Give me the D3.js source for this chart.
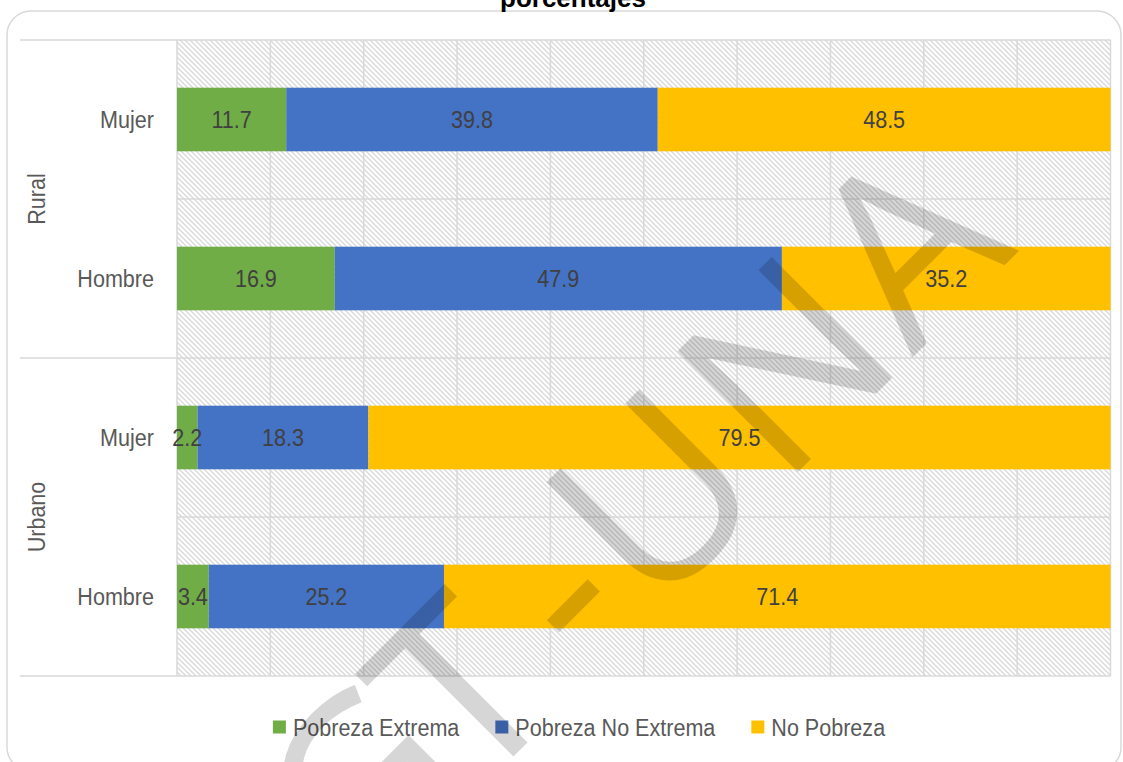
<!DOCTYPE html>
<html>
<head>
<meta charset="utf-8">
<script src="https://cdn.jsdelivr.net/npm/d3@7"></script>
<style>
  html, body { margin: 0; padding: 0; background: #fff; }
  svg { display: block; }
  .lbl { font-family: "Liberation Sans Narrow", "Arial Narrow", "Liberation Sans", sans-serif; }
</style>
</head>
<body>
<svg id="chart" width="1123" height="762"></svg>
<script>
// Poverty status by area and sex, in percent
const areas = ["Rural", "Urbano"];
const sexes = ["Mujer", "Hombre"];
const seriesNames = ["Pobreza Extrema", "Pobreza No Extrema", "No Pobreza"];
const seriesColors = ["#70AD47", "#4472C4", "#FFC000"];

// one value per row: Rural-Mujer, Rural-Hombre, Urbano-Mujer, Urbano-Hombre
const pobrezaExtrema   = [11.7, 16.9, 2.2, 3.4];
const pobrezaNoExtrema = [39.8, 47.9, 18.3, 25.2];
const noPobreza        = [48.5, 35.2, 79.5, 71.4];
const xTicks = [0, 10, 20, 30, 40, 50, 60, 70, 80, 90, 100];

const rows = [];
areas.forEach(a => sexes.forEach(s => rows.push({ area: a, sex: s, key: a + "|" + s })));
rows.forEach((r, i) => {
  r["Pobreza Extrema"] = pobrezaExtrema[i];
  r["Pobreza No Extrema"] = pobrezaNoExtrema[i];
  r["No Pobreza"] = noPobreza[i];
});

const svg = d3.select("#chart");
const plot = { left: 177, right: 1110.5, top: 40, bottom: 676 };
const FS = 24.5;      // label font size
const NARROW = 0.88;  // horizontal squeeze for the narrow label face

const x = d3.scaleLinear().domain([0, 100]).range([plot.left, plot.right]);
const y = d3.scaleBand().domain(rows.map(r => r.key))
  .range([plot.top, plot.bottom]).paddingInner(0.6).paddingOuter(0.3);
const step = y.step();
const color = d3.scaleOrdinal().domain(seriesNames).range(seriesColors);

// hatch pattern for the plot background
const defs = svg.append("defs");
const p = 5;
const pat = defs.append("pattern").attr("id", "hatch")
  .attr("patternUnits", "userSpaceOnUse").attr("width", p).attr("height", p);
pat.append("rect").attr("width", p).attr("height", p).attr("fill", "#fff");
pat.append("path")
  .attr("d", `M0,0L${p},${p}M${-p/2},${p/2}L${p/2},${p*1.5}M${p/2},${-p/2}L${p*1.5},${p/2}`)
  .attr("stroke", "#dadada").attr("stroke-width", 1.4);

// chart frame
svg.append("rect").attr("x", 7).attr("y", 11).attr("width", 1114).attr("height", 760)
  .attr("rx", 24).attr("fill", "#fff").attr("stroke", "#d9d9d9").attr("stroke-width", 1.5);

// title (second line)
svg.append("text").attr("x", 573).attr("y", 7).attr("text-anchor", "middle")
  .attr("font-family", "Liberation Sans, Arial, sans-serif").attr("font-weight", "bold")
  .attr("font-size", 26).attr("fill", "#000").text("porcentajes");

// plot background
svg.append("rect").attr("x", plot.left).attr("y", plot.top)
  .attr("width", plot.right - plot.left).attr("height", plot.bottom - plot.top)
  .attr("fill", "url(#hatch)");

// vertical gridlines
svg.append("g").selectAll("line").data(xTicks).join("line")
  .attr("x1", d => x(d)).attr("x2", d => x(d))
  .attr("y1", plot.top).attr("y2", plot.bottom)
  .attr("stroke", "#d9d9d9").attr("stroke-width", 1.5);

// row boundaries; group boundaries extend into the label area
const bounds = d3.range(rows.length + 1).map(i => plot.top + i * step);
svg.append("g").selectAll("line").data(bounds).join("line")
  .attr("x1", (d, i) => i % 2 === 0 ? 20 : plot.left).attr("x2", plot.right)
  .attr("y1", d => d).attr("y2", d => d)
  .attr("stroke", "#d9d9d9").attr("stroke-width", 1.5);

// stacked bars
const stacked = d3.stack().keys(seriesNames)(rows);
const layers = svg.append("g").selectAll("g").data(stacked).join("g")
  .attr("fill", d => color(d.key));
layers.selectAll("rect").data(d => d).join("rect")
  .attr("x", d => x(d[0])).attr("width", d => x(d[1]) - x(d[0]))
  .attr("y", d => y(d.data.key)).attr("height", y.bandwidth());

// places a squeezed text at (px, py)
const at = (px, py, extra = "") => `translate(${px},${py}) ${extra} scale(${NARROW},1)`;

// value labels
const valueLabels = svg.append("g").attr("class", "lbl")
  .attr("font-size", FS).attr("fill", "#404040").attr("text-anchor", "middle");
stacked.forEach(layer => {
  valueLabels.selectAll(null).data(layer).join("text")
    .attr("transform", d => at((x(d[0]) + x(d[1])) / 2, y(d.data.key) + y.bandwidth() / 2))
    .attr("dy", "0.35em")
    .text(d => d3.format(".1f")(d[1] - d[0]));
});

// category labels
svg.append("g").attr("class", "lbl").attr("font-size", FS).attr("fill", "#595959")
  .attr("text-anchor", "end")
  .selectAll("text").data(rows).join("text")
  .attr("transform", d => at(154, y(d.key) + y.bandwidth() / 2))
  .attr("dy", "0.35em")
  .text(d => d.sex);

// group labels
svg.append("g").attr("class", "lbl").attr("font-size", FS).attr("fill", "#595959")
  .attr("text-anchor", "middle")
  .selectAll("text").data(areas).join("text")
  .attr("transform", (d, i) => at(36, plot.top + (i * 2 + 1) * step, "rotate(-90)"))
  .attr("dy", "0.35em")
  .text(d => d);

// legend
const legend = svg.append("g").attr("class", "lbl").attr("font-size", FS).attr("fill", "#595959");
const items = legend.selectAll("g").data(seriesNames).join("g");
items.append("rect").attr("width", 13).attr("height", 13).attr("y", -6.5)
  .attr("fill", d => color(d));
items.append("text").attr("transform", at(20, 0)).attr("dy", "0.35em").text(d => d);
const widths = [];
items.each(function () { widths.push(20 + NARROW * this.querySelector("text").getComputedTextLength()); });
const gap = 36;
const total = d3.sum(widths) + gap * (widths.length - 1);
let startX = 579 - total / 2;
items.attr("transform", (d, i) => {
  const t = `translate(${startX},727)`;
  startX += widths[i] + gap;
  return t;
});

// diagonal watermark, one glyph per tspan along a 45° baseline
const wmGlyphs = ["G", "T", "-", "U", "N", "A"];
const wmOffsets = [-300, -162, -23, 111, 297, 468];
svg.append("text").attr("transform", "translate(635,635) rotate(-45)")
  .attr("text-anchor", "middle")
  .attr("font-family", "Open Sans, sans-serif").attr("font-weight", 400)
  .attr("font-size", 239).attr("fill", "#000").attr("fill-opacity", 0.16)
  .selectAll("tspan").data(wmGlyphs).join("tspan")
  .attr("x", (d, i) => wmOffsets[i]).attr("y", 0)
  .text(d => d);
</script>
</body>
</html>
